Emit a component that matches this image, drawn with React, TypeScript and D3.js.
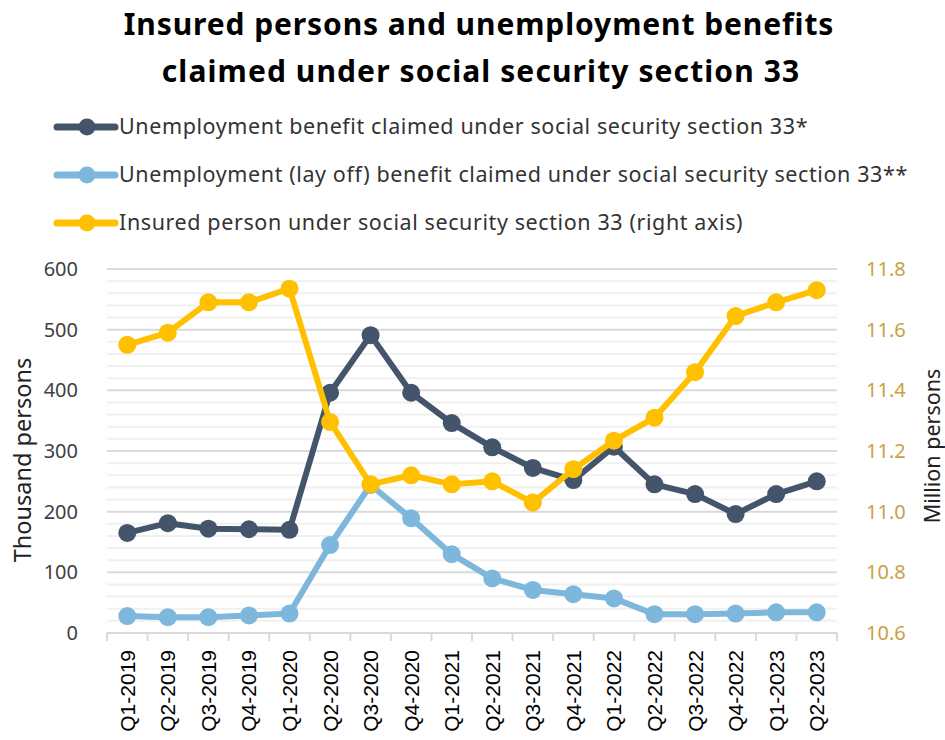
import React from "react";
import * as d3 from "d3";

const categories = [
  "Q1-2019", "Q2-2019", "Q3-2019", "Q4-2019",
  "Q1-2020", "Q2-2020", "Q3-2020", "Q4-2020",
  "Q1-2021", "Q2-2021", "Q3-2021", "Q4-2021",
  "Q1-2022", "Q2-2022", "Q3-2022", "Q4-2022",
  "Q1-2023", "Q2-2023",
];
const benefitClaimed = [165, 181, 172, 171, 170, 396, 491, 396, 346, 306, 272, 252, 307, 245, 229, 196, 229, 250];
const layoffClaimed = [28, 26, 26, 29, 32, 145, 244, 189, 130, 90, 71, 64, 57, 31, 31, 32, 34, 34];
const insuredPersons = [11.55, 11.59, 11.69, 11.69, 11.735, 11.296, 11.09, 11.12, 11.09, 11.10, 11.03, 11.14, 11.234, 11.31, 11.46, 11.645, 11.69, 11.73];
const leftTicks = [0, 100, 200, 300, 400, 500, 600];
const rightTicks = [10.6, 10.8, 11.0, 11.2, 11.4, 11.6, 11.8];
const legendLabels = [
  "Unemployment benefit claimed under social security section 33*",
  "Unemployment (lay off) benefit claimed under social security section 33**",
  "Insured person under social security section 33 (right axis)",
];

const DARK = "#44546a";
const LIGHT = "#7db7dc";
const GOLD = "#ffc000";
const FONT = "'Noto Sans', 'Open Sans', sans-serif";

export default function App() {
  const W = 945, H = 740;
  const x0 = 107, x1 = 837, yTop = 269, yBot = 633;
  const x = d3.scaleBand<string>().domain(categories).range([x0, x1]);
  const cx = (c: string) => (x(c) as number) + x.bandwidth() / 2;
  const yL = d3.scaleLinear().domain([0, 600]).range([yBot, yTop]);
  const yR = d3.scaleLinear().domain([10.6, 11.8]).range([yBot, yTop]);
  const minor = d3.range(0, 601, 20);

  const lineL = d3.line<number>().x((_, i) => cx(categories[i])).y((d) => yL(d));
  const lineR = d3.line<number>().x((_, i) => cx(categories[i])).y((d) => yR(d));

  const series = [
    { vals: benefitClaimed, color: DARK, gen: lineL, sc: yL },
    { vals: layoffClaimed, color: LIGHT, gen: lineL, sc: yL },
    { vals: insuredPersons, color: GOLD, gen: lineR, sc: yR },
  ];
  const legendColors = [DARK, LIGHT, GOLD];

  return (
    <svg width={W} height={H} style={{ position: "absolute", left: 0, top: 0, background: "#fff" }}>
      <rect width={W} height={H} fill="#fff" />
      <text x={479} y={35} textAnchor="middle" fontFamily={FONT} fontWeight={700} fontSize={30} letterSpacing={0.9} fill="#000">
        Insured persons and unemployment benefits
      </text>
      <text x={481} y={82} textAnchor="middle" fontFamily={FONT} fontWeight={700} fontSize={30} letterSpacing={1.1} fill="#000">
        claimed under social security section 33
      </text>

      {legendLabels.map((l, i) => {
        const ly = 127 + i * 48;
        return (
          <g key={l}>
            <line x1={57} x2={115} y1={ly} y2={ly} stroke={legendColors[i]} strokeWidth={7} strokeLinecap="round" />
            <circle cx={87} cy={ly} r={8.5} fill={legendColors[i]} />
            <text x={119} y={ly + 7} fontFamily={FONT} fontSize={21.5} letterSpacing={0.6} fill="#333">
              {l}
            </text>
          </g>
        );
      })}

      {minor.map((v) => (
        <line key={v} x1={x0} x2={x1} y1={yL(v)} y2={yL(v)}
          stroke={v % 100 === 0 ? "#d9d9d9" : "#f0f0f0"} strokeWidth={2} />
      ))}
      <line x1={x0} x2={x1} y1={yBot} y2={yBot} stroke="#d9d9d9" strokeWidth={2} />
      {categories.concat(["end"]).map((c, i) => {
        const tx = x0 + i * x.step();
        return <line key={c} x1={tx} x2={tx} y1={yBot} y2={yBot + 8} stroke="#d9d9d9" strokeWidth={2} />;
      })}

      {leftTicks.map((t) => (
        <text key={t} x={78} y={yL(t) + 7} textAnchor="end" fontFamily={FONT} fontSize={20} fill="#404040">
          {t}
        </text>
      ))}
      {rightTicks.map((t) => (
        <text key={t} x={866} y={yR(t) + 7} textAnchor="start" fontFamily={FONT} fontSize={20} fill="#c9a144">
          {t.toFixed(1)}
        </text>
      ))}
      <text transform="translate(31,460) rotate(-90)" textAnchor="middle" fontFamily={FONT} fontSize={23.5} fill="#222">
        Thousand persons
      </text>
      <text transform="translate(940,446) rotate(-90)" textAnchor="middle" fontFamily={FONT} fontSize={21.5} fill="#222">
        Million persons
      </text>

      {categories.map((c) => (
        <text key={c} transform={`translate(${cx(c) + 7.5},650) rotate(-90)`} textAnchor="end"
          fontFamily="'Liberation Sans', Arial, sans-serif" fontSize={21} fill="#000">
          {c}
        </text>
      ))}

      {series.map((s, k) => (
        <g key={k}>
          <path d={s.gen(s.vals) as string} fill="none" stroke={s.color} strokeWidth={6} strokeLinejoin="round" />
          {s.vals.map((v, i) => (
            <circle key={i} cx={cx(categories[i])} cy={s.sc(v)} r={9} fill={s.color} />
          ))}
        </g>
      ))}
    </svg>
  );
}
